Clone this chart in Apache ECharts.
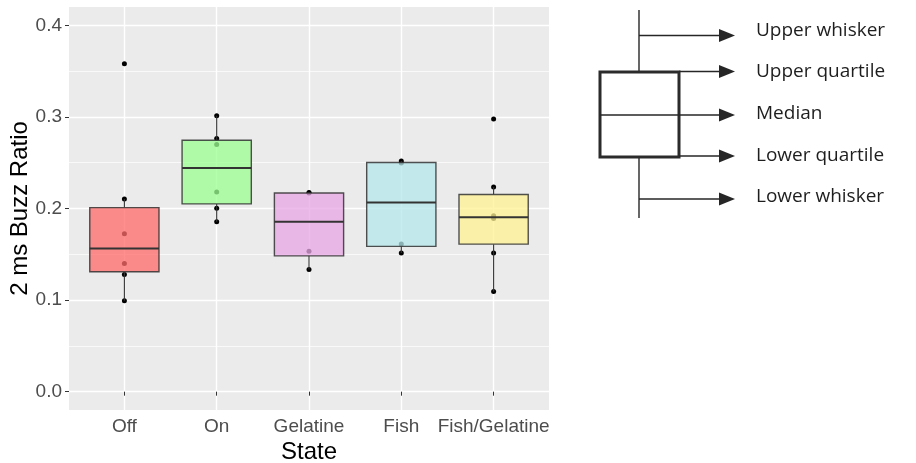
<!DOCTYPE html>
<html>
<head>
<meta charset="utf-8">
<script src="https://cdn.jsdelivr.net/npm/echarts@6/dist/echarts.min.js"></script>
<style>
html,body{margin:0;padding:0;background:#fff;}
#chart{width:916px;height:463px;}
</style>
</head>
<body>
<div id="chart"></div>
<script>
// ---- data ----
const categories = ['Off', 'On', 'Gelatine', 'Fish', 'Fish/Gelatine'];
const yTicks = [0.0, 0.1, 0.2, 0.3, 0.4];
const yMinorTicks = [0.05, 0.15, 0.25, 0.35];

// observations per state
const offPoints = [0.0992, 0.128, 0.140, 0.1723, 0.2105, 0.358];
const onPoints = [0.1854, 0.2003, 0.2181, 0.2698, 0.2763, 0.3014];
const gelatinePoints = [0.1335, 0.1532, 0.2168, 0.2175];
const fishPoints = [0.1513, 0.1612, 0.2496, 0.2519];
const fishGelatinePoints = [0.1095, 0.1513, 0.189, 0.192, 0.2236, 0.2977];

// box statistics per state (Off, On, Gelatine, Fish, Fish/Gelatine)
const lowerWhisker = [0.0992, 0.1854, 0.1335, 0.1513, 0.1095];
const lowerQuartile = [0.131, 0.205, 0.1483, 0.1586, 0.1611];
const medianValue = [0.1564, 0.2443, 0.1854, 0.2065, 0.1905];
const upperQuartile = [0.201, 0.2745, 0.217, 0.2502, 0.2153];
const upperWhisker = [0.2105, 0.3014, 0.2175, 0.2519, 0.2236];

const legendLabels = ['Upper whisker', 'Upper quartile', 'Median', 'Lower quartile', 'Lower whisker'];

// ---- styles ----
const boxFills = [
  'rgba(255,108,108,0.76)',
  'rgba(156,255,146,0.76)',
  'rgba(231,167,228,0.76)',
  'rgba(183,231,236,0.76)',
  'rgba(255,242,146,0.76)'
];
const FONT = '"Liberation Sans", Arial, sans-serif';

const allPoints = [offPoints, onPoints, gelatinePoints, fishPoints, fishGelatinePoints];
const scatterData = [];
allPoints.forEach((arr, i) => arr.forEach(v => scatterData.push([i + 1, v])));
const boxData = categories.map((c, i) => [i + 1, lowerWhisker[i], lowerQuartile[i], medianValue[i], upperQuartile[i], upperWhisker[i]]);

// ---- explanatory diagram (layout only) ----
const DK = '#262626';
const graphics = [];
const bx = 639, boxL = 600, boxR = 679, boxT = 72, boxB = 157;
const arrowTip = 735, arrowBase = 719;
const legendY = [35.5, 71.5, 115, 156, 199];
const textY = [31, 72, 114, 156, 197];
graphics.push({type:'line', shape:{x1:bx, y1:10, x2:bx, y2:boxT}, style:{stroke:DK, lineWidth:1.4}});
graphics.push({type:'line', shape:{x1:bx, y1:boxB, x2:bx, y2:218}, style:{stroke:DK, lineWidth:1.4}});
graphics.push({type:'rect', shape:{x:boxL, y:boxT, width:boxR - boxL, height:boxB - boxT}, style:{fill:'#fff', stroke:'#2b2b2b', lineWidth:3}});
graphics.push({type:'line', shape:{x1:boxL, y1:legendY[2], x2:boxR, y2:legendY[2]}, style:{stroke:DK, lineWidth:1.4}});
const starts = [bx, boxR, boxR, boxR, bx];
legendLabels.forEach((lab, i) => {
  const y = legendY[i];
  graphics.push({type:'line', shape:{x1:starts[i], y1:y, x2:arrowBase + 1, y2:y}, style:{stroke:DK, lineWidth:1.4}});
  graphics.push({type:'polygon', shape:{points:[[arrowBase, y - 6.5], [arrowTip, y], [arrowBase, y + 6.5]]}, style:{fill:DK}});
  graphics.push({type:'text', x:756, y:textY[i], style:{text:lab, fill:'#1e1e1e', font:'19px "Open Sans", sans-serif', verticalAlign:'middle', align:'left'}});
});

const chart = echarts.init(document.getElementById('chart'), null, {renderer:'canvas'});
chart.setOption({
  animation: false,
  backgroundColor: '#fff',
  grid: {left:69, right:367, top:7, bottom:53, show:true, backgroundColor:'#EBEBEB', borderWidth:0,
    containLabel:false, outerBoundsMode:'none'},
  xAxis: {
    type:'value', min:0.4, max:5.6,
    name:'State', nameLocation:'middle', nameGap:30, nameMoveOverlap:false,
    nameTextStyle:{fontFamily:FONT, fontSize:24, color:'#000'},
    axisLine:{show:false},
    axisTick:{show:true, length:4, lineStyle:{color:'#333', width:1}, customValues:[1,2,3,4,5]},
    axisLabel:{show:true, customValues:[1,2,3,4,5], margin:7, fontFamily:FONT, fontSize:19, color:'#4D4D4D',
      formatter: v => categories[Math.round(v) - 1] || ''},
    splitLine:{show:true, lineStyle:{color:'#fff', width:1.4}}
  },
  yAxis: [{
    type:'value', min:-0.02, max:0.42,
    name:'2 ms Buzz Ratio', nameLocation:'middle', nameGap:37, nameRotate:90, nameMoveOverlap:false,
    nameTextStyle:{fontFamily:FONT, fontSize:24, color:'#000'},
    axisLine:{show:false},
    axisTick:{show:true, length:4, lineStyle:{color:'#333', width:1}, customValues:yTicks},
    axisLabel:{show:true, customValues:yTicks, margin:7, fontFamily:FONT, fontSize:19, color:'#4D4D4D',
      formatter: v => v.toFixed(1)},
    splitLine:{show:true, lineStyle:{color:'#fff', width:1.4}}
  }, {
    type:'value', min:-0.02, max:0.42, position:'left',
    axisLine:{show:false},
    axisTick:{show:false, customValues:yMinorTicks},
    axisLabel:{show:false, customValues:yMinorTicks},
    splitLine:{show:true, lineStyle:{color:'#fff', width:0.7}}
  }],
  series: [{
    type:'scatter', data:scatterData, symbolSize:5, z:2,
    itemStyle:{color:'#000', opacity:1}, silent:true
  }, {
    type:'custom', data:boxData, z:3, silent:true,
    renderItem: function(params, api) {
      const x = api.value(0);
      const lo = api.coord([x, api.value(1)]);
      const q1 = api.coord([x, api.value(2)]);
      const md = api.coord([x, api.value(3)]);
      const q3 = api.coord([x, api.value(4)]);
      const hi = api.coord([x, api.value(5)]);
      const w = api.size([0.75, 0])[0];
      const idx = params.dataIndex;
      return {type:'group', children:[
        {type:'line', shape:{x1:lo[0], y1:lo[1], x2:q1[0], y2:q1[1]}, style:{stroke:'#333', lineWidth:1.1}},
        {type:'line', shape:{x1:q3[0], y1:q3[1], x2:hi[0], y2:hi[1]}, style:{stroke:'#333', lineWidth:1.1}},
        {type:'rect', shape:{x:md[0] - w / 2, y:q3[1], width:w, height:q1[1] - q3[1]}, style:{fill:boxFills[idx], stroke:'rgba(51,51,51,0.85)', lineWidth:1.4}},
        {type:'line', shape:{x1:md[0] - w / 2, y1:md[1], x2:md[0] + w / 2, y2:md[1]}, style:{stroke:'#333', lineWidth:2}}
      ]};
    }
  }],
  graphic: graphics
});
</script>
</body>
</html>
